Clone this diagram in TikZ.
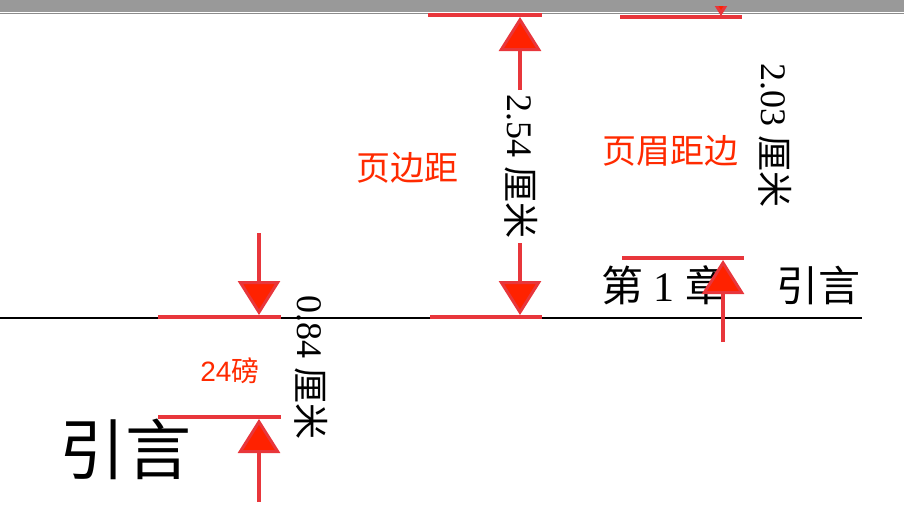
\documentclass[tikz,border=0pt]{standalone}
\usepackage{fontspec}
\setmainfont{Liberation Serif}
\setsansfont{Liberation Sans}
\newfontfamily\cjk{Noto Sans CJK SC}
\usetikzlibrary{arrows.meta}

\begin{document}
\begin{tikzpicture}[x=1pt,y=-1pt]
    % Define colours
    \definecolor{lineRed}{HTML}{E8363B}
    \definecolor{tipRed}{HTML}{FF2200}
    \definecolor{textRed}{HTML}{FF2A00}
    \definecolor{barGrey}{HTML}{999999}

    % Styles for rules, arrows and labels
    \tikzset{
        rule/.style={lineRed, line width=4pt},
        dimarrow/.style={lineRed, line width=4pt,
            -{Triangle[length=34pt,width=42pt,fill=tipRed,line width=3pt]}},
        redlabel/.style={textRed, inner sep=0pt, font=\sffamily\fontsize{34}{34}\selectfont\cjk},
        dimtext/.style={rotate=-90, inner sep=0pt, font=\fontsize{36}{36}\selectfont},
    }

    \useasboundingbox (0,0) rectangle (904,522);

    % Window bar at the top
    \fill[barGrey] (0,0) rectangle (904,12);
    \draw[gray!90, line width=0.8pt] (0,13.4) -- (904,13.4);

    % Header rule
    \coordinate (ruleL) at (0,318);
    \coordinate (ruleR) at (862,318);
    \draw[line width=1.8pt] (ruleL) -- (ruleR);

    % Header text
    \node[inner sep=0pt, font=\fontsize{42}{42}\selectfont] (chapnum) at (664,285) {{\cjk 第} 1 {\cjk 章}};
    \node[inner sep=0pt, font=\fontsize{42}{42}\selectfont\cjk] (chapname) at (818,285) {引言};

    % Chapter heading
    \node[inner sep=0pt, font=\fontsize{66}{66}\selectfont\cjk] (heading) at (125,449) {引言};

    % Top margin: 2.54 cm
    \draw[rule] (428,15) -- (542,15);
    \draw[rule] (430,317) -- (542,317);
    \coordinate (marginTop) at (520,17);
    \coordinate (marginTopTail) at (520,90);
    \coordinate (marginBot) at (520,315);
    \coordinate (marginBotTail) at (520,243);
    \draw[dimarrow] (marginTopTail) -- (marginTop);
    \draw[dimarrow] (marginBotTail) -- (marginBot);
    \node[dimtext] (marginlen) at (521,166) {2.54 {\cjk 厘米}};
    \node[redlabel] (marginname) at (407,168) {页边距};

    % Header distance: 2.03 cm
    \draw[rule] (620,17) -- (742,17);
    \draw[rule] (622,258) -- (744,258);
    \coordinate (headTop) at (721,16);
    \coordinate (headTopTail) at (721,-60);
    \coordinate (headBot) at (723,260);
    \coordinate (headBotTail) at (723,342);
    \begin{scope}
        \clip (0,6) rectangle (904,522);
        \draw[dimarrow] (headTopTail) -- (headTop);
    \end{scope}
    \draw[dimarrow] (headBotTail) -- (headBot);
    \node[dimtext] (headlen) at (775,135) {2.03 {\cjk 厘米}};
    \node[redlabel] (headname) at (670,151) {页眉距边};

    % Space before heading: 24 pt
    \draw[rule] (158,317) -- (281,317);
    \draw[rule] (158,417) -- (281,417);
    \coordinate (spaceTop) at (259,315);
    \coordinate (spaceTopTail) at (259,233);
    \coordinate (spaceBot) at (259,419);
    \coordinate (spaceBotTail) at (259,502);
    \draw[dimarrow] (spaceTopTail) -- (spaceTop);
    \draw[dimarrow] (spaceBotTail) -- (spaceBot);
    \node[dimtext] (spacelen) at (311,367) {0.84 {\cjk 厘米}};
    \node[textRed, inner sep=0pt, font=\sffamily\fontsize{28}{28}\selectfont] (spacename) at (230,371) {24{\cjk 磅}};

\end{tikzpicture}
\end{document}
